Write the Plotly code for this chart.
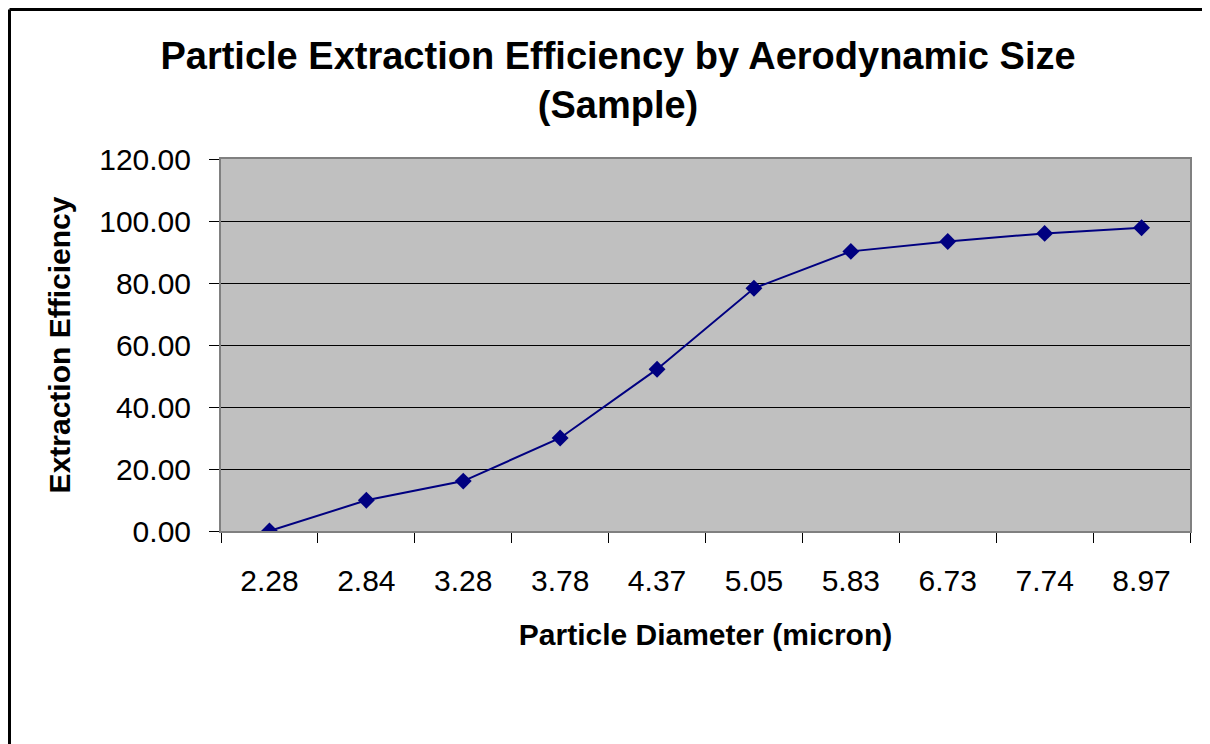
import plotly.graph_objects as go

diameters = ["2.28", "2.84", "3.28", "3.78", "4.37", "5.05", "5.83", "6.73", "7.74", "8.97"]
efficiency = [0.0, 9.9, 16.1, 30.0, 52.2, 78.3, 90.2, 93.4, 96.0, 97.8]

# page body has an 8px margin, so the figure is offset by (8, 8)
W, H = 1202, 736
L, R, T, B = 213, 1182, 151, 523

fig = go.Figure()
fig.add_trace(go.Scatter(
    x=diameters, y=efficiency, mode="lines+markers",
    line=dict(color="#000080", width=2),
    marker=dict(symbol="diamond", size=13, color="#000080"),
    showlegend=False,
))

font = "Arial, 'Liberation Sans', sans-serif"

def px_x(px):
    return (px - L) / (R - L)

def px_y(py):
    return (B - py) / (B - T)

fig.update_layout(
    width=W, height=H,
    margin=dict(l=L, r=W - R, t=T, b=H - B, pad=0),
    paper_bgcolor="white",
    plot_bgcolor="#C0C0C0",
    font=dict(family=font, color="black"),
    title=dict(
        text="<b>Particle Extraction Efficiency by Aerodynamic Size<br>(Sample)</b>",
        x=610 / W, xanchor="center",
        y=1 - 61 / H, yanchor="middle",
        font=dict(size=38, family=font, color="black"),
    ),
    xaxis=dict(
        type="category",
        range=[-0.5, len(diameters) - 0.5],
        tickson="boundaries",
        ticks="outside", ticklen=10, tickcolor="black", tickwidth=1,
        ticklabelstandoff=22,
        showgrid=False,
        showline=True, linecolor="#808080", linewidth=2, mirror=True,
        tickfont=dict(size=30, family=font),
        title=dict(text="<b>Particle Diameter (micron)</b>", font=dict(size=30, family=font), standoff=28),
    ),
    yaxis=dict(
        range=[0, 120], dtick=20, tickformat=".2f",
        ticks="outside", ticklen=10, tickcolor="black", tickwidth=1,
        ticklabelstandoff=12,
        showgrid=True, gridcolor="black", gridwidth=1,
        zeroline=False,
        showline=True, linecolor="#808080", linewidth=2, mirror=True,
        tickfont=dict(size=30, family=font),
        title=dict(text="<b>Extraction Efficiency</b>", font=dict(size=30, family=font), standoff=20),
    ),
    shapes=[
        dict(type="line", xref="paper", yref="paper", x0=px_x(1.5), x1=px_x(1210), y0=px_y(1.5), y1=px_y(1.5),
             line=dict(color="black", width=3)),
        dict(type="line", xref="paper", yref="paper", x0=px_x(1.5), x1=px_x(1.5), y0=px_y(1.5), y1=px_y(750),
             line=dict(color="black", width=3)),
        dict(type="line", xref="paper", yref="paper", x0=px_x(1199.5), x1=px_x(1199.5), y0=px_y(3), y1=px_y(750),
             line=dict(color="#808080", width=1.5)),
    ],
)

fig.write_html("out.html")
